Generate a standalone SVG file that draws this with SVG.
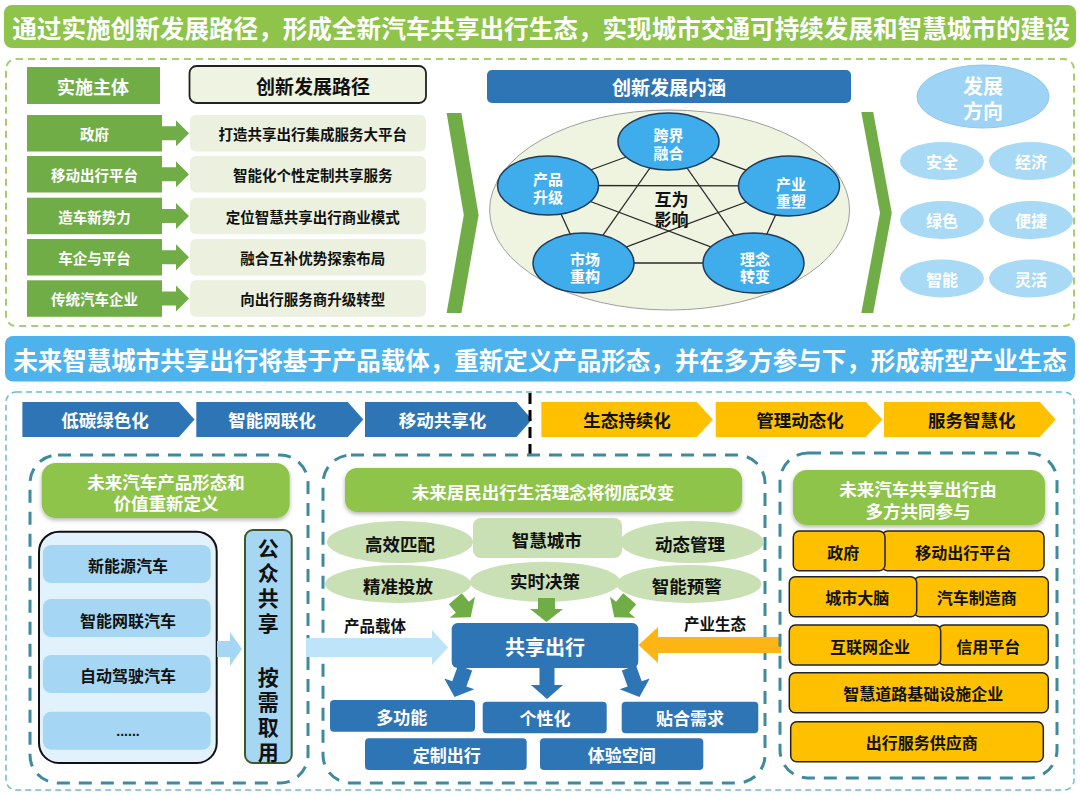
<svg xmlns="http://www.w3.org/2000/svg" width="1080" height="795" viewBox="0 0 1080 795">
<defs>
<style>
.t{font-family:"Noto Sans CJK SC","Noto Sans",sans-serif;font-weight:700;text-anchor:middle;dominant-baseline:central}
.v{font-family:"Noto Sans CJK SC","Noto Sans",sans-serif;font-weight:700;text-anchor:start;writing-mode:vertical-rl;fill:#111}
.w{fill:#fff}.k{fill:#111}
.gdash{fill:none;stroke:#3F8A9C;stroke-width:3;stroke-dasharray:13 9}
.rowg{fill:#70AD47}
.rowl{fill:#EBF1DE}
.blue{fill:#2E75B6}
.pc{fill:#3FACEB;stroke:#1F3B5C;stroke-width:1.5}
.dir{fill:#A8D9F5}
.bub{fill:#C8E0B4}
.org{fill:#FFC000;stroke:#222;stroke-width:1.5}
.hdr{fill:#8DC449}
</style>
<filter id="sh" x="-10%" y="-20%" width="120%" height="150%">
<feDropShadow dx="0" dy="2" stdDeviation="2" flood-color="#000" flood-opacity="0.3"/>
</filter>
</defs>
<rect width="1080" height="795" fill="#fff"/>

<g id="banner-top">
<rect x="4" y="5" width="1072" height="43" rx="8" fill="#8DC449"/>
<text class="t w" x="541" y="27" font-size="24.6">通过实施创新发展路径，形成全新汽车共享出行生态，实现城市交通可持续发展和智慧城市的建设</text>
</g>

<rect id="top-frame" x="6" y="59" width="1068" height="267" rx="10" fill="none" stroke="#A5CF6A" stroke-width="2" stroke-dasharray="7 5"/>

<g id="subjects-header">
<rect x="27" y="67" width="133" height="37" fill="#70AD47"/>
<text class="t w" x="93" y="86" font-size="18">实施主体</text>
</g>
<g id="paths-header">
<rect x="189.5" y="66" width="236.5" height="37" rx="7" fill="#EEF3E2" stroke="#222" stroke-width="1.8"/>
<text class="t k" x="313" y="85" font-size="19">创新发展路径</text>
</g>

<g id="row1">
<rect class="rowg" x="27" y="115" width="135" height="36.5"/>
<text class="t w" x="94.5" y="133.3" font-size="14.5">政府</text>
<rect class="rowl" x="190" y="115" width="236" height="36.5" rx="6"/>
<text class="t k" x="312.7" y="133.3" font-size="14.5">打造共享出行集成服务大平台</text>
</g>
<g id="row2">
<rect class="rowg" x="27" y="156" width="135" height="36.5"/>
<text class="t w" x="94.5" y="174.3" font-size="14.5">移动出行平台</text>
<rect class="rowl" x="190" y="156" width="236" height="36.5" rx="6"/>
<text class="t k" x="312.7" y="174.3" font-size="14.5">智能化个性定制共享服务</text>
</g>
<g id="row3">
<rect class="rowg" x="27" y="197.7" width="135" height="36.5"/>
<text class="t w" x="94.5" y="216" font-size="14.5">造车新势力</text>
<rect class="rowl" x="190" y="197.7" width="236" height="36.5" rx="6"/>
<text class="t k" x="312.7" y="216" font-size="14.5">定位智慧共享出行商业模式</text>
</g>
<g id="row4">
<rect class="rowg" x="27" y="239" width="135" height="36.5"/>
<text class="t w" x="94.5" y="257.3" font-size="14.5">车企与平台</text>
<rect class="rowl" x="190" y="239" width="236" height="36.5" rx="6"/>
<text class="t k" x="312.7" y="257.3" font-size="14.5">融合互补优势探索布局</text>
</g>
<g id="row5">
<rect class="rowg" x="27" y="280.3" width="135" height="36.5"/>
<text class="t w" x="94.5" y="298.6" font-size="14.5">传统汽车企业</text>
<rect class="rowl" x="190" y="280.3" width="236" height="36.5" rx="6"/>
<text class="t k" x="312.7" y="298.6" font-size="14.5">向出行服务商升级转型</text>
</g>

<g id="connectors">
<g fill="#70AD47">
<polygon points="162,126.3 176,126.3 176,120.3 189,133.3 176,146.3 176,140.3 162,140.3"/>
<polygon points="162,167.3 176,167.3 176,161.3 189,174.3 176,187.3 176,181.3 162,181.3"/>
<polygon points="162,209 176,209 176,203 189,216 176,229 176,223 162,223"/>
<polygon points="162,250.3 176,250.3 176,244.3 189,257.3 176,270.3 176,264.3 162,264.3"/>
<polygon points="162,291.6 176,291.6 176,285.6 189,298.6 176,311.6 176,305.6 162,305.6"/>
<polygon points="446.6,113 461.4,113 478.6,215 461.4,313 446.6,313 463.8,215"/>
<polygon points="861.3,112 873.2,112 891.8,213 873.2,313 861.3,313 880,213"/>
</g>
</g>

<g id="connotation-header">
<rect x="487" y="70" width="364" height="33" rx="5" class="blue"/>
<text class="t w" x="669" y="86.5" font-size="19">创新发展内涵</text>
</g>

<g id="pentagon">
<ellipse cx="669.6" cy="210" rx="180" ry="100" fill="#EEF4DF" stroke="#9E9E9E" stroke-width="1"/>
<g stroke="#2A2A2A" stroke-width="1.3">
<line x1="668.5" y1="141.5" x2="548" y2="185.5"/>
<line x1="668.5" y1="141.5" x2="789" y2="186"/>
<line x1="668.5" y1="141.5" x2="583.5" y2="263"/>
<line x1="668.5" y1="141.5" x2="753.5" y2="263"/>
<line x1="548" y1="185.5" x2="789" y2="186"/>
<line x1="548" y1="185.5" x2="583.5" y2="263"/>
<line x1="548" y1="185.5" x2="753.5" y2="263"/>
<line x1="789" y1="186" x2="583.5" y2="263"/>
<line x1="789" y1="186" x2="753.5" y2="263"/>
<line x1="583.5" y1="263" x2="753.5" y2="263"/>
</g>
<text class="t k" x="671.5" y="198" font-size="17">互为<tspan x="671.5" dy="20">影响</tspan></text>
</g>
<g id="node-kuajie">
<ellipse class="pc" cx="668.5" cy="141.5" rx="50.5" ry="28.5"/>
<text class="t w" x="668.5" y="134" font-size="15">跨界<tspan x="668.5" dy="17.5">融合</tspan></text>
</g>
<g id="node-chanpin">
<ellipse class="pc" cx="548" cy="185.5" rx="50.5" ry="29.5"/>
<text class="t w" x="548" y="178" font-size="15">产品<tspan x="548" dy="18">升级</tspan></text>
</g>
<g id="node-chanye">
<ellipse class="pc" cx="789" cy="186" rx="50.5" ry="30"/>
<text class="t w" x="791" y="183" font-size="15">产业<tspan x="791" dy="17">重塑</tspan></text>
</g>
<g id="node-shichang">
<ellipse class="pc" cx="583.5" cy="263" rx="50.5" ry="30"/>
<text class="t w" x="585" y="258" font-size="15">市场<tspan x="585" dy="17">重构</tspan></text>
</g>
<g id="node-linian">
<ellipse class="pc" cx="753.5" cy="263" rx="50.5" ry="30"/>
<text class="t w" x="755" y="258" font-size="15">理念<tspan x="755" dy="17">转变</tspan></text>
</g>

<g id="direction">
<ellipse cx="983" cy="96.5" rx="66" ry="31.5" fill="#9DD3F4" stroke="#8CC8EE" stroke-width="1"/>
<text class="t w" x="983" y="85" font-size="20">发展<tspan x="983" dy="25">方向</tspan></text>
</g>
<g id="dir-anquan"><ellipse class="dir" cx="942" cy="161" rx="42" ry="19"/><text class="t w" x="942" y="161" font-size="16">安全</text></g>
<g id="dir-jingji"><ellipse class="dir" cx="1031" cy="161" rx="42" ry="19"/><text class="t w" x="1031" y="161" font-size="16">经济</text></g>
<g id="dir-lvse"><ellipse class="dir" cx="942" cy="220" rx="42" ry="19"/><text class="t w" x="942" y="220" font-size="16">绿色</text></g>
<g id="dir-bianjie"><ellipse class="dir" cx="1031" cy="220" rx="42" ry="19"/><text class="t w" x="1031" y="220" font-size="16">便捷</text></g>
<g id="dir-zhineng"><ellipse class="dir" cx="942" cy="278.5" rx="42" ry="19"/><text class="t w" x="942" y="278.5" font-size="16">智能</text></g>
<g id="dir-linghuo"><ellipse class="dir" cx="1031" cy="278.5" rx="42" ry="19"/><text class="t w" x="1031" y="278.5" font-size="16">灵活</text></g>

<g id="banner-mid">
<rect x="5" y="336" width="1070" height="45.5" rx="8" fill="#4EB3EC"/>
<text class="t w" x="540" y="359" font-size="24.5">未来智慧城市共享出行将基于产品载体，重新定义产品形态，并在多方参与下，形成新型产业生态</text>
</g>

<rect id="bottom-frame" x="6" y="392" width="1068" height="398" rx="10" fill="none" stroke="#6DBAD6" stroke-width="1.5" stroke-dasharray="6 4"/>

<g id="trend-1"><polygon class="blue" points="22.4,402 179,402 194.5,419.5 179,437 22.4,437"/><text class="t w" x="105" y="419.5" font-size="17.5">低碳绿色化</text></g>
<g id="trend-2"><polygon class="blue" points="196.3,402 347.8,402 363.3,419.5 347.8,437 196.3,437"/><text class="t w" x="272" y="419.5" font-size="17.5">智能网联化</text></g>
<g id="trend-3"><polygon class="blue" points="365,402 516.5,402 532,419.5 516.5,437 365,437"/><text class="t w" x="442.5" y="419.5" font-size="17.5">移动共享化</text></g>
<g id="trend-4"><polygon fill="#FFC000" points="541.4,402 696.8,402 712.9,419.5 696.8,437 541.4,437"/><text class="t k" x="627" y="419.5" font-size="17.5">生态持续化</text></g>
<g id="trend-5"><polygon fill="#FFC000" points="715.7,402 866,402 882.5,419.5 866,437 715.7,437"/><text class="t k" x="800" y="419.5" font-size="17.5">管理动态化</text></g>
<g id="trend-6"><polygon fill="#FFC000" points="884,402 1040,402 1055.7,419.5 1040,437 884,437"/><text class="t k" x="971.8" y="419.5" font-size="17.5">服务智慧化</text></g>

<line id="divider" x1="530" y1="393" x2="530" y2="456" stroke="#000" stroke-width="3" stroke-dasharray="11 6"/>

<g id="group-product">
<rect class="gdash" x="30" y="455" width="278" height="328" rx="28"/>
<rect class="hdr" x="41.7" y="463" width="248" height="55" rx="14" filter="url(#sh)"/>
<text class="t w" x="166" y="481.5" font-size="17.5">未来汽车产品形态和<tspan x="166" dy="20">价值重新定义</tspan></text>
<rect x="39" y="531.7" width="177.7" height="231.3" rx="20" fill="#E2F2FC" stroke="#111" stroke-width="2"/>
<rect x="43" y="545" width="167.7" height="38" rx="8" fill="#A5D7F4"/>
<rect x="43" y="599" width="167.7" height="38" rx="8" fill="#A5D7F4"/>
<rect x="43" y="655" width="167.7" height="38" rx="8" fill="#A5D7F4"/>
<rect x="43" y="711.7" width="167.7" height="38" rx="8" fill="#A5D7F4"/>
<text class="t k" x="128" y="565" font-size="16">新能源汽车</text>
<text class="t k" x="128" y="620" font-size="16">智能网联汽车</text>
<text class="t k" x="128" y="675" font-size="16">自动驾驶汽车</text>
<text x="128" y="736" font-size="14" font-family="Liberation Sans, sans-serif" font-weight="700" text-anchor="middle" fill="#111">......</text>
</g>
<g id="public-share">
<rect x="245" y="530" width="46.7" height="233" rx="8" fill="#A5D7F4" stroke="#3A5A2A" stroke-width="2"/>
<text class="v" x="268.3" y="538" font-size="21" letter-spacing="4">公众共享</text>
<text class="v" x="268.3" y="667" font-size="21" letter-spacing="4">按需取用</text>
</g>

<g id="group-life">
<rect class="gdash" x="323" y="455" width="442" height="328" rx="28"/>
<rect class="hdr" x="345" y="468" width="397" height="44" rx="12" filter="url(#sh)"/>
<text class="t w" x="543" y="491" font-size="17.5">未来居民出行生活理念将彻底改变</text>
</g>
<g id="bubble-zhihui"><rect class="bub" x="473" y="518" width="149" height="40" rx="8"/><text class="t k" x="546.7" y="539" font-size="17.5">智慧城市</text></g>
<g id="bubble-gaoxiao"><ellipse class="bub" cx="400" cy="542" rx="73" ry="21"/><text class="t k" x="400" y="543" font-size="17.5">高效匹配</text></g>
<g id="bubble-dongtai"><ellipse class="bub" cx="691.7" cy="542" rx="72" ry="21"/><text class="t k" x="690" y="543" font-size="17.5">动态管理</text></g>
<g id="bubble-jingzhun"><ellipse class="bub" cx="398" cy="584" rx="73" ry="19"/><text class="t k" x="398" y="585" font-size="17.5">精准投放</text></g>
<g id="bubble-shishi"><ellipse class="bub" cx="545" cy="581.7" rx="75" ry="20"/><text class="t k" x="545" y="580.7" font-size="17.5">实时决策</text></g>
<g id="bubble-yujing"><ellipse class="bub" cx="689" cy="584" rx="72.5" ry="19"/><text class="t k" x="686.7" y="585" font-size="17.5">智能预警</text></g>

<g id="shared-mobility">
<rect class="blue" x="451.7" y="623" width="186.6" height="45" rx="6"/>
<text class="t w" x="545" y="646" font-size="20">共享出行</text>
</g>
<text id="lbl-carrier" class="t k" x="375" y="625" font-size="15.5">产品载体</text>
<text id="lbl-industry" class="t k" x="715" y="623" font-size="15.5">产业生态</text>

<g id="flow-arrows">
<polygon fill="#A5D7F4" points="217,641 230,641 230,632 242,649 230,666 230,657 217,657"/>
<polygon fill="#BEE4FA" points="306,638 432,638 432,630 448,647.5 432,665 432,657 306,657"/>
<polygon fill="#FDB515" points="781,637 658,637 658,627 638.5,645 658,663 658,653 781,653"/>
<g fill="#70AD47">
<polygon transform="translate(546.5,610)" points="-8.5,-12 8.5,-12 8.5,-1 16.5,-1 0,12 -16.5,-1 -8.5,-1"/>
<polygon transform="translate(463,608) rotate(-40)" points="-8.5,-12 8.5,-12 8.5,-1 16.5,-1 0,12 -16.5,-1 -8.5,-1"/>
<polygon transform="translate(622,608) rotate(40)" points="-8.5,-12 8.5,-12 8.5,-1 16.5,-1 0,12 -16.5,-1 -8.5,-1"/>
</g>
<g fill="#2E75B6">
<polygon transform="translate(547,683)" points="-7.5,-15 7.5,-15 7.5,2 16,2 0,16 -16,2 -7.5,2"/>
<polygon transform="translate(460,682) rotate(20)" points="-7.5,-15 7.5,-15 7.5,2 16,2 0,16 -16,2 -7.5,2"/>
<polygon transform="translate(634,682) rotate(-20)" points="-7.5,-15 7.5,-15 7.5,2 16,2 0,16 -16,2 -7.5,2"/>
</g>
</g>

<g id="out-duogongneng"><rect class="blue" x="330" y="700" width="145" height="31.7" rx="4"/><text class="t w" x="401.7" y="716" font-size="17">多功能</text></g>
<g id="out-gexinghua"><rect class="blue" x="482.7" y="701.7" width="124" height="31.6" rx="4"/><text class="t w" x="545" y="717" font-size="17">个性化</text></g>
<g id="out-tiehe"><rect class="blue" x="621.7" y="701.7" width="136.6" height="31.6" rx="4"/><text class="t w" x="690" y="717" font-size="17">贴合需求</text></g>
<g id="out-dingzhi"><rect class="blue" x="365" y="738.3" width="161.7" height="31.7" rx="4"/><text class="t w" x="446.7" y="754" font-size="17">定制出行</text></g>
<g id="out-tiyan"><rect class="blue" x="540" y="738.3" width="163.3" height="31.7" rx="4"/><text class="t w" x="621.7" y="754" font-size="17">体验空间</text></g>

<g id="group-parties">
<rect class="gdash" x="780" y="453" width="277" height="325" rx="28"/>
<rect class="hdr" x="793" y="470" width="252" height="55" rx="14" filter="url(#sh)"/>
<text class="t w" x="918" y="488" font-size="17.5">未来汽车共享出行由<tspan x="918" dy="22">多方共同参与</tspan></text>
</g>
<g id="p-yidong"><rect class="org" x="881.7" y="531" width="162.3" height="39.7" rx="6"/><text class="t k" x="963.3" y="551.5" font-size="16">移动出行平台</text></g>
<g id="p-zhengfu"><rect class="org" x="793.3" y="531" width="91.7" height="39.7" rx="6"/><text class="t k" x="843.3" y="551.5" font-size="16">政府</text></g>
<g id="p-qiche"><rect class="org" x="914" y="576.7" width="134.3" height="40" rx="6"/><text class="t k" x="976.7" y="597" font-size="16">汽车制造商</text></g>
<g id="p-chengshi"><rect class="org" x="789.3" y="576.7" width="127.4" height="40" rx="6"/><text class="t k" x="857.3" y="597" font-size="16">城市大脑</text></g>
<g id="p-xinyong"><rect class="org" x="938.3" y="625" width="110" height="40" rx="6"/><text class="t k" x="988.3" y="645.5" font-size="16">信用平台</text></g>
<g id="p-hulian"><rect class="org" x="789.3" y="625" width="151.4" height="40" rx="6"/><text class="t k" x="870" y="645.5" font-size="16">互联网企业</text></g>
<g id="p-daolu"><rect class="org" x="789.3" y="672.7" width="259" height="40" rx="6"/><text class="t k" x="923.3" y="693" font-size="16">智慧道路基础设施企业</text></g>
<g id="p-fuwu"><rect class="org" x="790.7" y="721.7" width="252.6" height="40" rx="6"/><text class="t k" x="921.7" y="742" font-size="16">出行服务供应商</text></g>
</svg>
